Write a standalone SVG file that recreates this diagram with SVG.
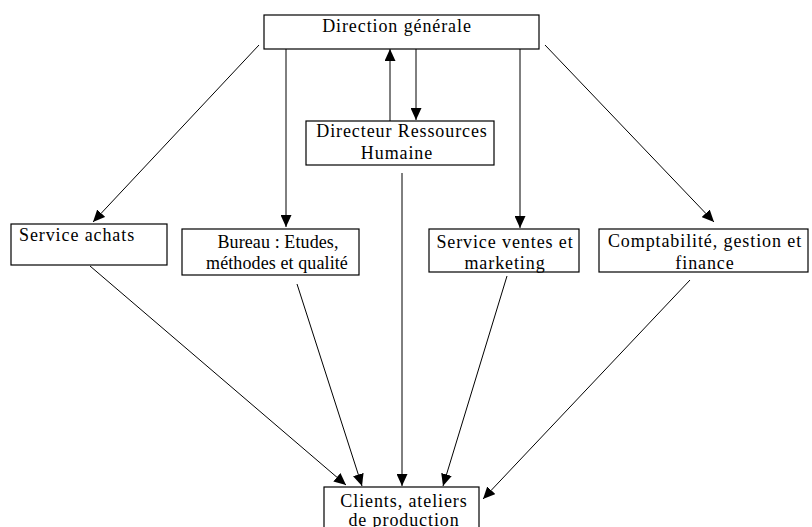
<svg xmlns="http://www.w3.org/2000/svg" width="812" height="527" viewBox="0 0 812 527">
<style>
.box{fill:#fff;stroke:#000;stroke-width:1.2}
.t{font-family:"Liberation Serif","Times New Roman",serif;font-size:18px;letter-spacing:0.9px;fill:#000}
.m{text-anchor:middle}
.s{letter-spacing:0.1px}
.c{fill:none;stroke:#000;stroke-width:1}
</style>
<defs>
<marker id="ah" markerUnits="userSpaceOnUse" markerWidth="12" markerHeight="11" refX="12" refY="5.5" orient="auto">
<path d="M0,0 L12,5.5 L0,11 Z" fill="#000"/>
</marker>
</defs>
<rect x="0" y="0" width="812" height="527" fill="#fff"/>
<g id="connectors">
<line class="c" x1="259" y1="45" x2="93" y2="222" marker-end="url(#ah)"/>
<line class="c" x1="286" y1="49" x2="286" y2="227" marker-end="url(#ah)"/>
<line class="c" x1="390" y1="121" x2="390" y2="49" marker-end="url(#ah)"/>
<line class="c" x1="416" y1="49" x2="416" y2="120" marker-end="url(#ah)"/>
<line class="c" x1="520" y1="49" x2="520" y2="228" marker-end="url(#ah)"/>
<line class="c" x1="545" y1="45" x2="714" y2="222" marker-end="url(#ah)"/>
<line class="c" x1="90" y1="266" x2="346" y2="485" marker-end="url(#ah)"/>
<line class="c" x1="297" y1="284" x2="362" y2="486" marker-end="url(#ah)"/>
<line class="c" x1="402" y1="173" x2="402" y2="486" marker-end="url(#ah)"/>
<line class="c" x1="507" y1="276" x2="443" y2="486" marker-end="url(#ah)"/>
<line class="c" x1="690" y1="280" x2="483" y2="499" marker-end="url(#ah)"/>
</g>
<g id="direction">
<rect class="box" x="264" y="15" width="275" height="34"/>
<text class="t m" x="397" y="32">Direction générale</text>
</g>
<g id="drh">
<rect class="box" x="306" y="121" width="188" height="44"/>
<text class="t m" x="402" y="137">Directeur Ressources</text>
<text class="t m" x="397" y="159">Humaine</text>
</g>
<g id="achats">
<rect class="box" x="11" y="224" width="156" height="41"/>
<text class="t" x="19" y="241">Service achats</text>
</g>
<g id="bureau">
<rect class="box" x="182" y="229" width="177" height="46"/>
<text class="t s m" x="278" y="248">Bureau : Etudes,</text>
<text class="t s m" x="277" y="269">méthodes et qualité</text>
</g>
<g id="ventes">
<rect class="box" x="429" y="229" width="150" height="43"/>
<text class="t m" x="505" y="248">Service ventes et</text>
<text class="t m" x="505" y="269">marketing</text>
</g>
<g id="compta">
<rect class="box" x="599" y="229" width="209" height="43"/>
<text class="t m" x="705" y="247">Comptabilité, gestion et</text>
<text class="t m" x="705" y="269">finance</text>
</g>
<g id="clients">
<rect class="box" x="324" y="487" width="155" height="50"/>
<text class="t m" x="404" y="507">Clients, ateliers</text>
<text class="t m" x="404" y="526">de production</text>
</g>
</svg>
